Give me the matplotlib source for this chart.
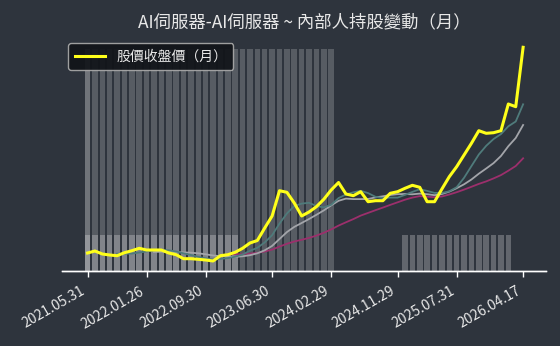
import numpy as np
import matplotlib
matplotlib.use("Agg")
import matplotlib.pyplot as plt
from matplotlib.transforms import ScaledTranslation

plt.rcParams['font.family'] = ['Noto Sans CJK TC', 'DejaVu Sans']

# ---- data ----
title = "AI伺服器-AI伺服器 ~ 內部人持股變動（月）"
legend_label = "股價收盤價（月）"
tick_labels = ["2021.05.31", "2022.01.26", "2022.09.30", "2023.06.30",
               "2024.02.29", "2024.11.29", "2025.07.31", "2026.04.17"]
tick_index = [0, 8, 16, 25, 33, 42, 50, 59]

close = [18.0, 20.0, 17.0, 16.0, 15.3, 18.3, 20.3, 22.7, 21.0, 21.0,
         21.0, 18.0, 16.3, 12.3, 12.3, 11.7, 11.0, 10.0, 15.3, 16.3,
         18.7, 22.7, 28.0, 30.5, 43.0, 55.0, 80.3, 78.7, 68.0, 55.0,
         59.0, 64.3, 71.7, 81.0, 88.5, 77.0, 75.3, 79.3, 69.3, 70.3,
         70.3, 77.7, 79.3, 82.7, 85.7, 83.7, 69.3, 69.3, 82.0, 94.3,
         104.3, 116.0, 127.7, 140.3, 137.7, 138.3, 140.3, 167.0, 164.3, 223.7]

nan = float('nan')
ma_short = [nan, nan, nan, nan, 17.3, 17.3, 17.4, 18.5, 19.5, 20.7,
            21.2, 20.7, 19.5, 17.7, 16.0, 14.1, 12.7, 11.5, 12.1, 12.9,
            14.3, 16.6, 20.2, 23.2, 28.6, 35.8, 47.4, 57.5, 65.0, 67.4,
            68.2, 65.0, 63.6, 66.2, 72.9, 76.5, 78.7, 80.2, 77.9, 74.2,
            72.9, 73.4, 73.4, 76.1, 79.1, 81.8, 80.1, 78.1, 78.0, 79.7,
            83.8, 93.2, 104.9, 116.5, 125.2, 132.0, 136.9, 144.7, 149.5, 166.7]

ma_mid = [nan, nan, nan, nan, nan, nan, nan, nan, nan, 19.0,
          19.3, 19.1, 19.0, 18.6, 18.3, 17.7, 16.7, 15.5, 14.9, 14.4,
          14.2, 14.7, 15.8, 17.7, 20.7, 25.1, 32.0, 38.9, 44.1, 48.0,
          52.0, 56.2, 60.6, 65.6, 70.2, 72.4, 71.9, 71.9, 72.0, 73.6,
          74.7, 76.0, 76.8, 77.0, 76.7, 77.4, 76.8, 75.8, 77.0, 79.4,
          82.8, 86.7, 91.5, 97.3, 102.5, 107.9, 115.0, 124.8, 133.0, 146.0]

ma_long = [nan] * 19 + [
           16.7,
           16.7, 16.9, 17.4, 18.1, 19.5, 21.4, 24.4, 27.2, 29.5, 31.2,
           33.1, 35.4, 38.2, 41.6, 45.4, 48.7, 51.9, 55.4, 58.1, 60.8,
           63.4, 66.1, 68.7, 71.3, 73.4, 74.9, 74.3, 73.8, 74.5, 76.5,
           78.8, 81.4, 84.2, 87.1, 89.6, 92.6, 95.9, 100.3, 105.0, 112.7]

hold_a = [94.9] * 34 + [nan] * 26
hold_b = [15.4] * 21 + [nan] * 22 + [15.4] * 15 + [nan] * 2
hold_c = [94.9] + [nan] * 59

# ---- style ----
bg = '#2e343d'
txt = '#e8e8e8'

fig = plt.figure(figsize=(5.6, 3.46), dpi=100, facecolor=bg)
ax = fig.add_axes([62 / 560, 1 - 271 / 346, (546 - 62) / 560, (271 - 37) / 346])
ax.set_facecolor(bg)

x = np.arange(len(close))

ax.bar(x, hold_a, width=0.75, color='white', alpha=0.2, linewidth=0, zorder=1)
ax.bar(x, hold_c, width=0.75, color='white', alpha=0.15, linewidth=0, zorder=1)
ax.bar(x, hold_b, width=0.75, color='white', alpha=0.25, linewidth=0, zorder=2)
ax.set_ylim(0, 100)
ax.set_xlim(-3.46, 62.1)
ax.set_yticks([])

ax2 = ax.twinx()
ax2.plot(x, ma_long, color='#9c2f6c', lw=1.3, zorder=3)
ax2.plot(x, ma_mid, color='#a3a5aa', lw=1.3, zorder=4)
ax2.plot(x, ma_short, color='#4f7b7b', lw=1.3, zorder=5)
ax2.plot(x, close, color='#ffff1a', lw=2.2, zorder=6, label=legend_label)
ax2.set_ylim(0, 234)
ax2.set_yticks([])

for a in (ax, ax2):
    for s in ('top', 'right', 'left'):
        a.spines[s].set_visible(False)
    a.spines['bottom'].set_color('white')
    a.spines['bottom'].set_linewidth(1.0)

ax.set_xticks(tick_index)
ax.set_xticklabels(tick_labels, rotation=30, ha='right', rotation_mode='anchor',
                   fontsize=10, color=txt)
ax.tick_params(axis='x', colors='white', length=4, width=1, pad=4, labelcolor=txt)
off = ScaledTranslation(-7 / 100, -2 / 100, fig.dpi_scale_trans)
for lab in ax.get_xticklabels():
    lab.set_transform(lab.get_transform() + off)

leg = ax2.legend(loc='upper left', fontsize=10, frameon=True, fancybox=True,
                 borderaxespad=0.45, handlelength=2.2, borderpad=0.45)
leg.get_frame().set_facecolor('#111418')
leg.get_frame().set_alpha(0.92)
leg.get_frame().set_edgecolor('#aaaaaa')
for t in leg.get_texts():
    t.set_color(txt)

fig.text((62 + 546) / 2 / 560, 1 - 22 / 346, title, ha='center', va='center',
         fontsize=12.5, color=txt)

fig.savefig('out.png', dpi=100, facecolor=bg)
